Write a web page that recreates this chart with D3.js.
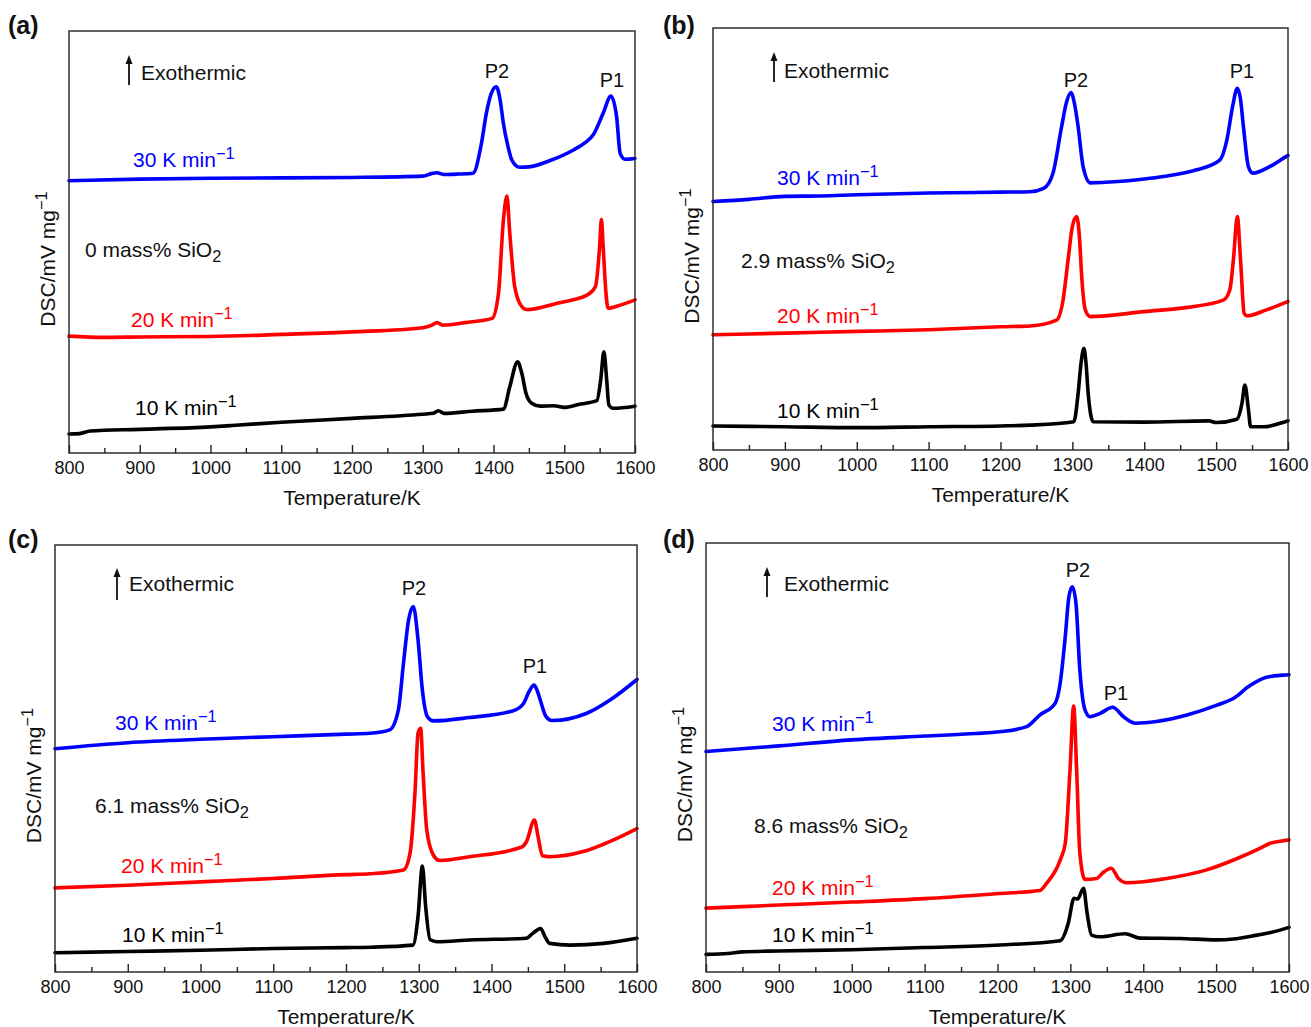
<!DOCTYPE html>
<html lang="en">
<head>
    <meta charset="UTF-8">
    <title>DSC curves</title>
    <script src="https://d3js.org/d3.v7.min.js"></script>
    <style>
        body {
            margin: 0;
            padding: 0;
            background: #fff;
        }

        svg {
            display: block;
            font-family: "Liberation Sans", Arial, Helvetica, sans-serif;
        }
    </style>
</head>
<body>
<svg id="dsc" width="1311" height="1027" xmlns="http://www.w3.org/2000/svg"></svg>
<script>
    // temperature axis
    var tempTicks = [800, 900, 1000, 1100, 1200, 1300, 1400, 1500, 1600];
    var tempMinor = [850, 950, 1050, 1150, 1250, 1350, 1450, 1550];
    var rateLabels = ['30 K min', '20 K min', '10 K min'];
    var rateColors = ['#0000ff', '#ff0000', '#000000'];
    var panelTags = ['(a)', '(b)', '(c)', '(d)'];
    var silicaLabels = ['0 mass% SiO', '2.9 mass% SiO', '6.1 mass% SiO', '8.6 mass% SiO'];

    // DSC signal, arbitrary units (0..100 of the frame height), [T/K, signal]
    var a30 = [[800, 64.5], [900, 64.9], [1000, 65.1], [1100, 65.2], [1200, 65.3], [1300, 65.6], [1312, 66.2], [1320, 66.4], [1330, 66.0], [1350, 66.1], [1371, 66.3], [1383, 73.4], [1390, 80.6], [1397, 85.3], [1404, 86.8], [1409, 84.0], [1414, 78.1], [1420, 73.0], [1426, 69.4], [1437, 67.7], [1450, 67.8], [1480, 69.3], [1513, 71.8], [1530, 73.6], [1541, 75.4], [1555, 80.5], [1566, 84.6], [1574, 79.7], [1579, 71.0], [1586, 69.6], [1600, 69.8]];
    var a20 = [[800, 27.7], [850, 27.4], [900, 27.5], [1000, 27.6], [1100, 28.1], [1200, 28.7], [1300, 29.7], [1313, 30.3], [1320, 30.9], [1328, 30.3], [1360, 30.9], [1398, 31.9], [1407, 37.8], [1414, 55.2], [1419, 60.9], [1423, 52.1], [1430, 39.4], [1440, 34.7], [1447, 34.0], [1490, 35.5], [1532, 37.4], [1544, 39.4], [1550, 48.9], [1552.5, 55.4], [1555, 48.9], [1559, 37.8], [1562, 34.3], [1580, 35.1], [1600, 36.3]];
    var a10 = [[800, 4.5], [815, 4.6], [830, 5.2], [900, 5.6], [1000, 6.2], [1030, 6.5], [1100, 7.3], [1200, 8.2], [1300, 9.2], [1315, 9.4], [1322, 10.0], [1330, 9.4], [1370, 9.9], [1414, 10.4], [1423, 15.7], [1434, 21.6], [1440, 18.9], [1446, 14.1], [1454, 11.8], [1466, 11.1], [1485, 11.2], [1500, 10.8], [1520, 11.5], [1546, 12.4], [1551.5, 17.3], [1556, 24.0], [1560, 17.3], [1563, 11.4], [1569, 10.6], [1600, 11.1]];

    var b30 = [[800, 58.9], [850, 59.4], [900, 60.1], [950, 60.2], [1000, 60.5], [1100, 60.9], [1200, 61.1], [1241, 61.2], [1260, 62.0], [1273, 65.6], [1285, 76.6], [1292, 82.5], [1298, 84.7], [1303, 82.0], [1308, 76.6], [1315, 67.1], [1325, 63.3], [1400, 64.2], [1427, 64.8], [1473, 66.4], [1505, 68.7], [1515, 73.5], [1523, 81.5], [1529.5, 85.7], [1534, 83.0], [1538, 76.6], [1545, 67.1], [1551, 65.6], [1575, 67.2], [1596, 69.4], [1600, 69.8]];
    var b20 = [[800, 27.3], [900, 27.7], [1000, 28.1], [1100, 28.5], [1200, 29.2], [1241, 29.4], [1278, 30.8], [1287, 35.5], [1294, 45.0], [1300, 53.0], [1306, 55.3], [1310, 50.0], [1313, 41.1], [1318, 33.2], [1325, 31.6], [1400, 32.8], [1460, 33.8], [1510, 35.5], [1519, 37.9], [1524, 45.0], [1529.5, 55.3], [1534, 45.0], [1539, 32.4], [1543, 31.8], [1570, 33.2], [1596, 34.9], [1600, 35.2]];
    var b10 = [[800, 5.7], [900, 5.5], [1000, 5.3], [1100, 5.5], [1200, 5.7], [1241, 5.9], [1302, 6.7], [1308, 13.4], [1312, 20.5], [1316, 24.1], [1319, 20.5], [1322, 13.4], [1329, 6.7], [1400, 6.6], [1490, 6.9], [1500, 6.5], [1529, 7.3], [1536, 11.1], [1540, 15.4], [1545, 9.5], [1548, 5.5], [1566, 5.5], [1596, 6.7], [1600, 6.9]];

    var c30 = [[800, 52.3], [900, 53.7], [1000, 54.5], [1100, 55.1], [1200, 55.7], [1233, 55.9], [1260, 56.7], [1272, 61.4], [1279, 72.3], [1286, 82.4], [1292.5, 85.6], [1299, 77.8], [1305, 66.0], [1312, 59.8], [1320, 58.8], [1370, 59.6], [1430, 61.2], [1444, 62.9], [1452, 65.8], [1458.5, 67.2], [1463, 65.8], [1467, 63.7], [1475, 59.8], [1483, 58.9], [1531, 60.6], [1563, 63.7], [1600, 68.5]];
    var c20 = [[800, 19.7], [900, 20.3], [1000, 21.1], [1100, 21.9], [1200, 22.8], [1233, 23.0], [1279, 23.9], [1288, 27.8], [1295, 42.6], [1299, 55.9], [1302.6, 57.1], [1306, 46.5], [1311, 33.3], [1320, 27.4], [1329, 26.1], [1370, 27.0], [1441, 29.2], [1448, 30.5], [1459, 35.6], [1464, 31.7], [1470, 27.2], [1480, 27.0], [1526, 28.2], [1567, 30.9], [1600, 33.6]];
    var c10 = [[800, 4.5], [900, 4.8], [1000, 5.1], [1100, 5.5], [1200, 5.7], [1233, 5.8], [1292, 6.3], [1299, 13.0], [1305, 24.8], [1309.5, 15.3], [1315.5, 7.6], [1325, 7.1], [1370, 7.5], [1448, 7.9], [1457, 9.1], [1467.5, 10.2], [1473.5, 8.3], [1480, 6.7], [1508, 6.3], [1554, 6.7], [1600, 7.9]];

    var d30 = [[800, 51.4], [900, 52.7], [1000, 54.1], [1100, 55.0], [1170, 55.6], [1203, 56.0], [1240, 57.2], [1258, 59.9], [1279, 62.6], [1286, 67.3], [1293, 78.2], [1298, 87.5], [1302.7, 89.8], [1307.7, 85.9], [1313, 70.4], [1320, 61.1], [1327, 59.5], [1341, 60.3], [1358, 61.7], [1373, 59.5], [1389, 58.0], [1418, 58.4], [1460, 59.9], [1501, 62.2], [1524, 63.8], [1546, 66.7], [1569, 68.7], [1592, 69.2], [1600, 69.3]];
    var d20 = [[800, 14.9], [900, 15.6], [1000, 16.3], [1100, 17.1], [1203, 18.3], [1258, 19.0], [1267.5, 20.7], [1286, 26.1], [1293, 30.0], [1299.5, 47.1], [1304.5, 62.0], [1308.6, 47.1], [1313, 27.7], [1320, 21.6], [1336, 21.8], [1345, 23.2], [1356, 24.2], [1366, 21.8], [1377, 20.8], [1432, 21.8], [1487, 23.8], [1524, 26.1], [1560, 28.8], [1574, 30.0], [1592, 30.6], [1600, 30.8]];
    var d10 = [[800, 4.1], [830, 4.3], [850, 4.7], [900, 4.9], [1000, 5.2], [1100, 5.7], [1203, 6.3], [1286, 7.3], [1297, 11.3], [1305, 17.2], [1310, 17.0], [1318, 19.5], [1323, 13.7], [1329, 8.6], [1341, 8.2], [1375, 8.9], [1396, 7.9], [1450, 7.8], [1500, 7.5], [1524, 7.7], [1550, 8.4], [1575, 9.2], [1600, 10.4]];

    var panelSeries = [[a30, a20, a10], [b30, b20, b10], [c30, c20, c10], [d30, d20, d10]];

    // frame geometry and annotation placement (pixels)
    var layout = [
        {box: [69, 31, 635, 453], tag: [8, 34], arrow: [129, 85, 55], exo: [141, 80],
            p2: [497, 78], p1: [612, 87], rates: [[133, 167], [131, 327], [135, 415]], silica: [85, 257]},
        {box: [713, 28, 1288, 450], tag: [663, 34], arrow: [774, 82, 52], exo: [784, 78],
            p2: [1076, 87], p1: [1242, 78], rates: [[777, 185], [777, 323], [777, 418]], silica: [741, 268]},
        {box: [55, 545, 637, 972], tag: [8, 548], arrow: [117, 600, 568], exo: [129, 591],
            p2: [414, 595], p1: [535, 673], rates: [[115, 730], [121, 873], [122, 942]], silica: [95, 813]},
        {box: [706, 543, 1289, 972], tag: [663, 548], arrow: [767, 597, 567], exo: [784, 591],
            p2: [1078, 577], p1: [1116, 700], rates: [[772, 731], [772, 895], [772, 942]], silica: [754, 833]}
    ];

    var svg = d3.select('#dsc');

    function superText(sel, base, sup) {
        sel.append('tspan').text(base);
        sel.append('tspan').text(sup).attr('font-size', '0.78em').attr('dy', '-0.5em');
    }

    layout.forEach(function (L, i) {
        var x0 = L.box[0], y0 = L.box[1], x1 = L.box[2], y1 = L.box[3];
        var x = d3.scaleLinear().domain([800, 1600]).range([x0, x1]);
        var y = d3.scaleLinear().domain([0, 100]).range([y1, y0]);
        var g = svg.append('g');

        var line = d3.line()
            .x(function (d) { return x(d[0]); })
            .y(function (d) { return y(d[1]); })
            .curve(d3.curveMonotoneX);

        panelSeries[i].forEach(function (s, k) {
            g.append('path')
                .attr('d', line(s))
                .attr('fill', 'none')
                .attr('stroke', rateColors[k])
                .attr('stroke-width', 3.6)
                .attr('stroke-linejoin', 'round')
                .attr('stroke-linecap', 'round');
        });

        // frame
        g.append('rect')
            .attr('x', x0).attr('y', y0)
            .attr('width', x1 - x0).attr('height', y1 - y0)
            .attr('fill', 'none').attr('stroke', '#222').attr('stroke-width', 1.4);

        var axis = g.append('g')
            .attr('transform', 'translate(0,' + y1 + ')')
            .call(d3.axisBottom(x).tickValues(tempTicks).tickFormat(d3.format('d'))
                .tickSizeInner(-8).tickSizeOuter(0).tickPadding(8));
        axis.select('.domain').remove();
        axis.selectAll('line').attr('stroke', '#222').attr('stroke-width', 1.4);
        axis.selectAll('text').attr('font-size', 18).attr('fill', '#111')
            .attr('font-family', '"Liberation Sans", Arial, sans-serif');

        var minor = g.append('g')
            .attr('transform', 'translate(0,' + y1 + ')')
            .call(d3.axisBottom(x).tickValues(tempMinor).tickFormat('').tickSizeInner(-5).tickSizeOuter(0));
        minor.select('.domain').remove();
        minor.selectAll('line').attr('stroke', '#222').attr('stroke-width', 1.4);

        g.append('text')
            .attr('x', (x0 + x1) / 2).attr('y', y1 + 52)
            .attr('text-anchor', 'middle').attr('font-size', 21).attr('fill', '#111')
            .text('Temperature/K');

        var yl = g.append('text')
            .attr('transform', 'translate(' + (x0 - 14) + ',' + ((y0 + y1) / 2 + 17) + ') rotate(-90)')
            .attr('text-anchor', 'middle').attr('font-size', 21).attr('fill', '#111');
        superText(yl, 'DSC/mV mg', '\u22121');

        g.append('text')
            .attr('x', L.tag[0]).attr('y', L.tag[1])
            .attr('font-size', 25).attr('font-weight', 'bold').attr('fill', '#111')
            .text(panelTags[i]);

        // exothermic arrow
        g.append('line')
            .attr('x1', L.arrow[0]).attr('x2', L.arrow[0])
            .attr('y1', L.arrow[1]).attr('y2', L.arrow[2] + 6)
            .attr('stroke', '#111').attr('stroke-width', 1.8);
        g.append('path')
            .attr('d', 'M' + (L.arrow[0] - 3.5) + ',' + (L.arrow[2] + 9) + 'L' + L.arrow[0] + ',' + L.arrow[2] +
                'L' + (L.arrow[0] + 3.5) + ',' + (L.arrow[2] + 9) + 'Z')
            .attr('fill', '#111');
        g.append('text')
            .attr('x', L.exo[0]).attr('y', L.exo[1])
            .attr('font-size', 21).attr('fill', '#111')
            .text('Exothermic');

        g.append('text')
            .attr('x', L.p2[0]).attr('y', L.p2[1]).attr('text-anchor', 'middle')
            .attr('font-size', 20).attr('fill', '#111').text('P2');
        g.append('text')
            .attr('x', L.p1[0]).attr('y', L.p1[1]).attr('text-anchor', 'middle')
            .attr('font-size', 20).attr('fill', '#111').text('P1');

        L.rates.forEach(function (p, k) {
            var t = g.append('text')
                .attr('x', p[0]).attr('y', p[1])
                .attr('font-size', 21).attr('fill', rateColors[k]);
            superText(t, rateLabels[k], '\u22121');
        });

        var st = g.append('text')
            .attr('x', L.silica[0]).attr('y', L.silica[1])
            .attr('font-size', 21).attr('fill', '#111');
        st.append('tspan').text(silicaLabels[i]);
        st.append('tspan').text('2').attr('font-size', '0.78em').attr('dy', '0.3em');
    });
</script>
</body>
</html>
